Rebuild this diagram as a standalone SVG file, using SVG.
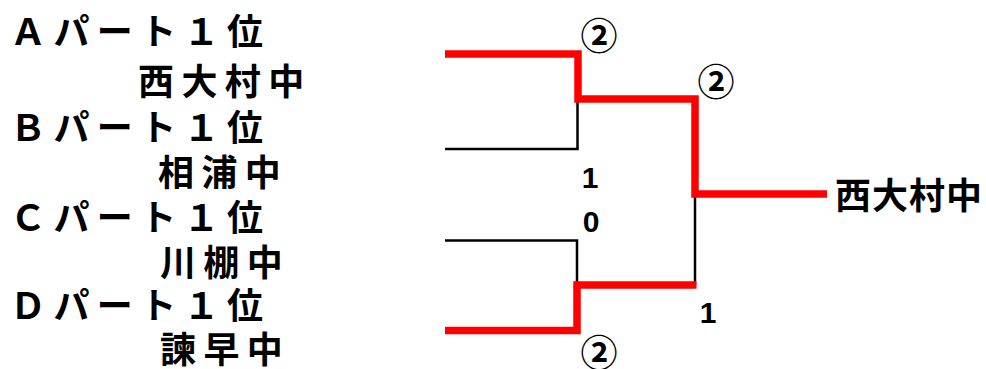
<svg xmlns="http://www.w3.org/2000/svg" width="986" height="369" viewBox="0 0 986 369">
<style>
.lbl{font-family:"Noto Sans CJK JP","Noto Sans CJK SC",sans-serif;font-weight:bold;font-size:36px;fill:#000;letter-spacing:7.4px}
.win{font-family:"Noto Sans CJK JP","Noto Sans CJK SC",sans-serif;font-weight:bold;font-size:36px;fill:#000;letter-spacing:1px}
.num{font-family:"Liberation Sans",Arial,sans-serif;font-weight:bold;font-size:30px;fill:#000;text-anchor:middle}
.circ{font-family:"Noto Sans CJK JP","Noto Sans CJK SC",sans-serif;font-weight:bold;font-size:37px;fill:#000;text-anchor:middle}
.red{fill:none;stroke:#ff0000;stroke-width:7.5;stroke-linejoin:miter;stroke-linecap:butt}
.blk{fill:none;stroke:#000;stroke-width:2.5}
</style>
<rect width="986" height="369" fill="#fff"/>
<g id="teamA">
<text class="lbl" x="10" y="45">Ａパート１位</text>
<text class="lbl" x="138" y="95">西大村中</text>
</g>
<g id="teamB">
<text class="lbl" x="10" y="141">Ｂパート１位</text>
<text class="lbl" x="158" y="186">相浦中</text>
</g>
<g id="teamC">
<text class="lbl" x="10" y="231">Ｃパート１位</text>
<text class="lbl" x="160" y="276">川棚中</text>
</g>
<g id="teamD">
<text class="lbl" x="10" y="319">Ｄパート１位</text>
<text class="lbl" x="160" y="363">諫早中</text>
</g>
<g id="winner">
<text class="win" x="835" y="209">西大村中</text>
</g>
<g id="connectors">
<path class="blk" d="M445,149 H577.5 V99"/>
<path class="blk" d="M445,240.5 H577 V285"/>
<path class="blk" d="M695,194 V285"/>
<path class="red" d="M445,54 H578 V99 H695 V194 H827"/>
<path class="red" d="M445,330.5 H577 V285 H696.5"/>
</g>
<g id="scores">
<text class="circ" x="599" y="50">②</text>
<text class="circ" x="716" y="96">②</text>
<text class="num" x="590" y="188">1</text>
<text class="num" x="591" y="232">0</text>
<text class="num" x="708" y="323">1</text>
<text class="circ" x="599" y="367">②</text>
</g>
</svg>
